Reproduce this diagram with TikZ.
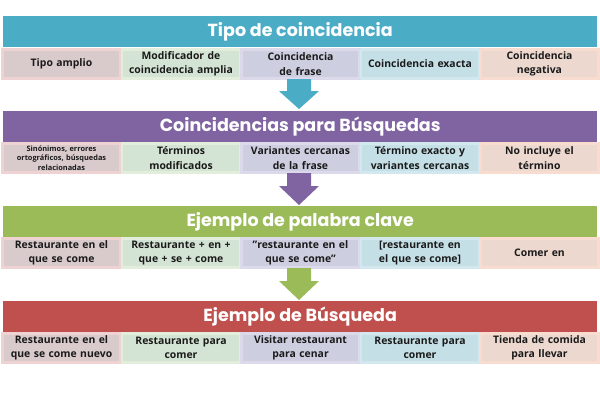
\documentclass[tikz,border=0pt]{standalone}
\usepackage{fontspec}
\setmainfont{Open Sans}
\newfontfamily\titlefont{Poppins}
\definecolor{hteal}{HTML}{4BACC6}
\definecolor{hpurple}{HTML}{8064A2}
\definecolor{hgreen}{HTML}{9BBB59}
\definecolor{hred}{HTML}{C0504D}
\definecolor{cpink}{HTML}{D9CACC}
\definecolor{cpinkb}{HTML}{EFD3D3}
\definecolor{cgreen}{HTML}{D4E4D4}
\definecolor{cgreenb}{HTML}{E3EDDB}
\definecolor{clav}{HTML}{CDCEE0}
\definecolor{clavb}{HTML}{DCD9EA}
\definecolor{cblue}{HTML}{C5DFE6}
\definecolor{cblueb}{HTML}{D3E8EE}
\definecolor{cpeach}{HTML}{ECD8CF}
\definecolor{cpeachb}{HTML}{F7DCCF}
\definecolor{txt}{HTML}{1A1A1A}
\begin{document}
\begin{tikzpicture}[x=1pt,y=-1pt,
  hdr/.style={minimum width=594pt,minimum height=31pt,inner sep=0pt,anchor=north west,
    text=white,font=\titlefont\bfseries\fontsize{17.5}{19}\selectfont},
  cellbox/.style={minimum width=117pt,minimum height=29pt,inner sep=0pt,anchor=north west,
    line width=2.5pt,text width=118pt,align=center,text=txt,
    font=\bfseries\fontsize{10.4}{14.5}\selectfont},
  c1/.style={cellbox,fill=cpink,draw=cpinkb},
  c2/.style={cellbox,fill=cgreen,draw=cgreenb},
  c3/.style={cellbox,fill=clav,draw=clavb},
  c4/.style={cellbox,fill=cblue,draw=cblueb},
  c5/.style={cellbox,fill=cpeach,draw=cpeachb},
  small/.style={font=\bfseries\fontsize{7.4}{9.6}\selectfont}
]
\useasboundingbox (0,0) rectangle (600,400);
\fill[white] (0,0) rectangle (600,400);

% Row 1
\node[hdr,fill=hteal] (h1) at (3,16) {Tipo de coincidencia};
\node[c1] (r1a) at (1.25,48.25) {Tipo amplio};
\node[c2] (r1b) at (120.75,48.25) {Modificador de\\coincidencia amplia};
\node[c3] (r1c) at (240.25,48.25) {Coincidencia\\de frase};
\node[c4] (r1d) at (359.75,48.25) {Coincidencia exacta};
\node[c5] (r1e) at (479.25,48.25) {Coincidencia\\negativa};

% Row 2
\node[hdr,fill=hpurple] (h2) at (3,111) {Coincidencias para Búsquedas};
\node[c1,small] (r2a) at (1.25,142.25) {Sinónimos, errores\\ortográficos, búsquedas\\relacionadas};
\node[c2] (r2b) at (120.75,142.25) {Términos\\modificados};
\node[c3] (r2c) at (240.25,142.25) {Variantes cercanas\\de la frase};
\node[c4] (r2d) at (359.75,142.25) {Término exacto y\\variantes cercanas};
\node[c5] (r2e) at (479.25,142.25) {No incluye el\\término};

% Row 3
\node[hdr,fill=hgreen] (h3) at (3,206) {Ejemplo de palabra clave};
\node[c1] (r3a) at (1.25,237.25) {Restaurante en el\\que se come};
\node[c2] (r3b) at (120.75,237.25) {Restaurante + en +\\que + se + come};
\node[c3] (r3c) at (240.25,237.25) {\char"22 restaurante en el\\que se come\char"22};
\node[c4] (r3d) at (359.75,237.25) {[restaurante en\\el que se come]};
\node[c5] (r3e) at (479.25,237.25) {Comer en};

% Row 4
\node[hdr,fill=hred] (h4) at (3,301) {Ejemplo de Búsqueda};
\node[c1] (r4a) at (1.25,332.25) {Restaurante en el\\que se come nuevo};
\node[c2] (r4b) at (120.75,332.25) {Restaurante para\\comer};
\node[c3] (r4c) at (240.25,332.25) {Visitar restaurant\\para cenar};
\node[c4] (r4d) at (359.75,332.25) {Restaurante para\\comer};
\node[c5] (r4e) at (479.25,332.25) {Tienda de comida\\para llevar};

% Arrows
\fill[hteal] (287,79) -- (311,79) -- (311,91) -- (319,91) -- (299,109) -- (279,91) -- (287,91) -- cycle;
\fill[hpurple] (287,173) -- (311,173) -- (311,186) -- (319,186) -- (299,205) -- (279,186) -- (287,186) -- cycle;
\fill[hgreen] (287,268) -- (311,268) -- (311,281) -- (319,281) -- (299,300) -- (279,281) -- (287,281) -- cycle;
\end{tikzpicture}
\end{document}
